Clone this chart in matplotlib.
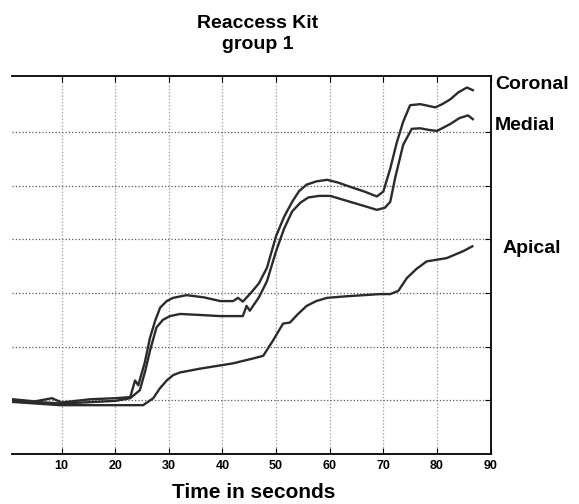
import numpy as np
import matplotlib
matplotlib.use('Agg')
import matplotlib.pyplot as plt

plt.rcParams['font.family'] = ['Liberation Sans', 'DejaVu Sans']

# values (y in grid units, no labels on the original)
t_coronal = [0.9, 5.0, 8.2, 10.0, 15.3, 20.0, 22.8, 23.7, 24.3, 25.5, 26.5, 27.5, 28.4,
             29.6, 30.8, 33.3, 36.5, 39.6, 42.0, 42.9, 43.8, 45.1, 46.8, 48.3, 50.0,
             51.5, 53.0, 54.3, 55.7, 57.5, 59.5, 61.5, 63.8, 66.5, 68.8, 70.0, 71.3,
             72.5, 73.7, 75.0, 76.9, 78.3, 79.7, 81.0, 82.5, 84.0, 85.6, 86.7]
coronal = [1.02, 0.98, 1.04, 0.96, 1.02, 1.04, 1.06, 1.37, 1.28, 1.70, 2.17, 2.50, 2.73,
           2.85, 2.91, 2.96, 2.92, 2.85, 2.85, 2.91, 2.84, 2.98, 3.18, 3.47, 4.06,
           4.42, 4.70, 4.90, 5.02, 5.08, 5.11, 5.06, 4.98, 4.89, 4.80, 4.89, 5.32,
           5.80, 6.19, 6.50, 6.52, 6.49, 6.46, 6.52, 6.61, 6.74, 6.83, 6.78]

t_medial = [0.9, 10.0, 20.0, 22.8, 24.6, 25.6, 26.5, 27.7, 28.9, 30.2, 32.1, 36.0, 39.6,
            43.8, 44.5, 45.1, 46.8, 48.3, 50.0, 51.5, 53.0, 54.5, 56.0, 58.0, 60.1,
            63.8, 66.5, 68.8, 70.3, 71.3, 72.2, 73.7, 75.3, 76.9, 78.5, 80.0, 82.5,
            84.2, 85.8, 86.7]
medial = [1.00, 0.94, 0.99, 1.04, 1.19, 1.55, 1.93, 2.36, 2.50, 2.57, 2.61, 2.59, 2.57,
          2.57, 2.76, 2.67, 2.92, 3.22, 3.78, 4.20, 4.52, 4.68, 4.78, 4.81, 4.81,
          4.70, 4.62, 4.55, 4.59, 4.70, 5.14, 5.76, 6.06, 6.07, 6.04, 6.02, 6.15,
          6.26, 6.31, 6.24]

t_apical = [0.9, 9.7, 25.2, 27.1, 28.3, 29.6, 30.8, 32.1, 35.8, 42.0, 45.7, 47.6, 49.4,
            51.3, 52.6, 54.0, 55.7, 57.5, 59.5, 63.2, 69.4, 71.3, 72.8, 74.4, 76.2,
            78.1, 81.8, 84.9, 86.6]
apical = [0.97, 0.91, 0.91, 1.04, 1.22, 1.37, 1.47, 1.52, 1.59, 1.69, 1.78, 1.83, 2.11,
          2.43, 2.45, 2.60, 2.76, 2.85, 2.91, 2.94, 2.98, 2.98, 3.04, 3.28, 3.45,
          3.59, 3.65, 3.78, 3.87]

series_names = ['Coronal', 'Medial', 'Apical']
label_pos = [(90.8, 6.89), (90.8, 6.12), (92.2, 3.83)]
x_ticks = [10, 20, 30, 40, 50, 60, 70, 80, 90]
y_grid = [1, 2, 3, 4, 5, 6]

fig = plt.figure(figsize=(5.79, 5.04), dpi=100)
ax = fig.add_axes([0.0212, 0.0992, 0.826, 0.7506])

for t, v in [(t_coronal, coronal), (t_medial, medial), (t_apical, apical)]:
    ax.plot(t, v, color='#2b2b2b', lw=1.7, solid_joinstyle='round')

ax.set_xlim(0.8, 90)
ax.set_ylim(0, 7.05)
ax.set_xticks(x_ticks)
ax.set_yticks(y_grid)
ax.tick_params(axis='x', direction='in', top=True, bottom=True, labelsize=9, length=4, pad=4)
ax.tick_params(axis='y', direction='in', left=False, right=True, labelleft=False, length=4)
for lab in ax.get_xticklabels():
    lab.set_fontweight('bold')
ax.yaxis.grid(True, linestyle=':', color='0.35', lw=0.9)
ax.xaxis.grid(True, linestyle=':', color='0.6', lw=0.9)
ax.spines['left'].set_visible(False)
for s in ['top', 'right', 'bottom']:
    ax.spines[s].set_linewidth(1.3)

for name, (lx, ly) in zip(series_names, label_pos):
    ax.text(lx, ly, name, ha='left', va='center', fontsize=14,
            fontweight='bold', clip_on=False)

fig.text(258 / 579, 1 - 34 / 504, 'Reaccess Kit\ngroup 1', ha='center', va='center',
         fontsize=14, fontweight='bold', linespacing=1.25)
fig.text(254 / 579, 1 - 492 / 504, 'Time in seconds', ha='center', va='center',
         fontsize=15, fontweight='bold')

fig.savefig('out.png', dpi=100, facecolor='white')
